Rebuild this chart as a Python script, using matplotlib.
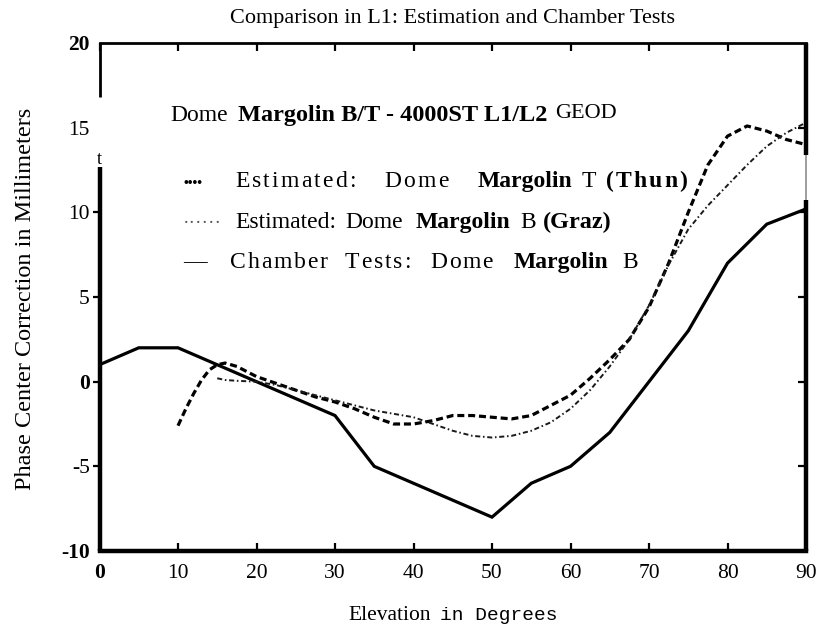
import matplotlib
matplotlib.use("Agg")
import matplotlib.pyplot as plt
from matplotlib import transforms as mtransforms

# Estimated phase centre correction, Dome Margolin T (Thun)
elev_thun = [10, 11, 12, 13, 14, 15, 16, 17.5, 20, 22.5, 25, 27.5, 30, 32.5, 35,
             37.5, 40, 42.5, 45, 47.5, 50, 52.5, 55, 57.5, 60, 62.5, 65, 67.5,
             70, 72.5, 75, 77.5, 80, 82.5, 85, 87.5, 90]
corr_thun = [-2.6, -1.6, -0.7, 0.1, 0.7, 1.0, 1.1, 0.9, 0.3, -0.1, -0.5, -0.9,
             -1.2, -1.6, -2.1, -2.5, -2.5, -2.3, -2.0, -2.0, -2.1, -2.2, -2.0,
             -1.4, -0.8, 0.2, 1.3, 2.5, 4.4, 7.0, 10.0, 12.8, 14.5, 15.1, 14.8,
             14.3, 14.0]

# Estimated phase centre correction, Dome Margolin B (Graz)
elev_graz = [15, 16, 17.5, 20, 22.5, 25, 27.5, 30, 32.5, 35, 37.5, 40, 42.5, 45,
             47.5, 50, 52.5, 55, 57.5, 60, 62.5, 65, 67.5, 70, 72.5, 75, 77.5,
             80, 82.5, 85, 87.5, 90]
corr_graz = [0.2, 0.1, 0.05, 0.0, -0.2, -0.5, -0.8, -1.1, -1.4, -1.7, -1.9, -2.1,
             -2.5, -2.9, -3.2, -3.3, -3.2, -2.9, -2.4, -1.6, -0.5, 0.9, 2.5, 4.5,
             6.9, 9.0, 10.4, 11.6, 12.8, 13.9, 14.7, 15.3]

# Anechoic chamber measurements, Dome Margolin B
elev_chamber = [0, 5, 10, 15, 20, 25, 30, 35, 40, 45, 50, 55, 60, 65, 70, 75, 80, 85, 90]
corr_chamber = [1.0, 2.0, 2.0, 1.0, 0.0, -1.0, -2.0, -5.0, -6.0, -7.0, -8.0, -6.0,
                -5.0, -3.0, 0.0, 3.0, 7.0, 9.3, 10.2]

x_ticks = [0, 10, 20, 30, 40, 50, 60, 70, 80, 90]
y_ticks = [-10, -5, 0, 5, 10, 15, 20]

SERIF = "Liberation Serif"
MONO = "Liberation Mono"
W, H = 823, 628

fig = plt.figure(figsize=(W / 100, H / 100), dpi=100)
fig.patch.set_facecolor("white")
ax = fig.add_axes([99.5 / W, 77 / H, 706.5 / W, 508 / H])
ax.set_xlim(0, 90)
ax.set_ylim(-10, 20)

ax.plot(elev_chamber, corr_chamber, color="black", lw=2.3, solid_joinstyle="miter")
ax.plot(elev_thun, corr_thun, color="black", lw=2.3, ls=(0, (2.2, 1.2)))
ax.plot(elev_graz, corr_graz, color="#1a1a1a", lw=1.4, ls=(0, (2.6, 1.4, 0.8, 1.4)))

# x axis: inward ticks on bottom and top
ax.set_xticks(x_ticks)
ax.set_xticklabels([str(v) for v in x_ticks], fontfamily=SERIF, fontsize=15.5)
ax.tick_params(axis="x", direction="in", top=True, length=6, width=1.6, pad=9)
ax.get_xticklabels()[0].set_fontweight("bold")

# y axis: outward ticks on the left
ax.set_yticks(y_ticks)
ax.set_yticklabels([str(v) for v in y_ticks], fontfamily=SERIF, fontsize=15.5)
ax.tick_params(axis="y", direction="out", length=5, width=1.6, pad=2)
for i, v in enumerate(y_ticks):
    if v in (-10, 15, 20):
        ax.yaxis.get_major_ticks()[i].tick1line.set_visible(False)
    if v in (-10, 0, 20):
        ax.get_yticklabels()[i].set_fontweight("bold")

# inward ticks on the right edge
right = ax.secondary_yaxis("right")
right.set_yticks([-5, 0, 5, 10, 15])
right.tick_params(direction="in", length=6, width=1.6, labelright=False)
right.spines["right"].set_visible(False)

# frame: heavy bottom, lighter top, broken left and right edges
ax.spines["bottom"].set_linewidth(3.2)
ax.spines["top"].set_linewidth(2.0)
ax.spines["left"].set_visible(False)
ax.spines["right"].set_visible(False)
ax.plot([0, 0], [-10, 12.7], color="black", lw=3.2, clip_on=False, solid_capstyle="butt")
ax.plot([0, 0], [16.8, 20], color="black", lw=2.0, clip_on=False, solid_capstyle="butt")
ax.text(0, 12.6, "t", fontfamily=SERIF, fontsize=13, ha="center", va="bottom")
ax.plot([90, 90], [-10, 10.7], color="black", lw=3.2, clip_on=False, solid_capstyle="butt")
ax.plot([90, 90], [10.7, 13.4], color="#8c8c8c", lw=1.2, clip_on=False, solid_capstyle="butt")
ax.plot([90, 90], [13.4, 20], color="black", lw=3.2, clip_on=False, solid_capstyle="butt")

# in-plot caption: x given in figure pixels, y (baseline) in data units
blend = mtransforms.blended_transform_factory(fig.transFigure, ax.transData)
renderer = fig.canvas.get_renderer()


def put(px, y, s, size, weight="normal", family=SERIF, track=0.0, color="black"):
    props = dict(fontfamily=family, fontsize=size, fontweight=weight, color=color,
                 ha="left", va="baseline", transform=blend)
    if not track:
        t = fig.text(px / W, y, s, **props)
        return px + t.get_window_extent(renderer).width
    x = px
    for ch in s:
        t = fig.text(x / W, y, ch, **props)
        x += t.get_window_extent(renderer).width + track
    return x


FS = 17
put(170, 15.4, "Dome", FS)
put(238, 15.4, "Margolin B/T - 4000ST L1/L2", 17.5, "bold")
put(555, 15.6, "GEOD", 16)

put(183, 11.5, "\u2022\u2022\u2022\u2022", 10, "bold")
put(235, 11.5, "Estimated:", FS, track=2.2)
put(384, 11.5, "Dome", FS, track=2.2)
put(478, 11.5, "Margolin", FS, "bold")
put(582, 11.5, "T", FS)
put(606, 11.5, "(Thun)", FS, "bold", track=2)

put(183, 9.05, "\u00b7\u00b7\u00b7\u00b7\u00b7\u00b7", 14, color="#555555")
put(235, 9.05, "Estimated:", FS)
put(345, 9.05, "Dome", FS)
put(416, 9.05, "Margolin", FS, "bold")
put(520, 9.05, "B", FS)
put(543, 9.05, "(Graz)", 17.5, "bold")

put(183, 6.7, "\u2014", FS)
put(230, 6.7, "Chamber", FS, track=1.8)
put(345, 6.7, "Tests:", FS, track=1.8)
put(430, 6.7, "Dome", FS, track=1.8)
put(514, 6.7, "Margolin", FS, "bold")
put(622, 6.7, "B", FS)

fig.text(452 / W, 1 - 18 / H, "Comparison in L1: Estimation and Chamber Tests",
         fontfamily=SERIF, fontsize=16, ha="center", va="center")
fig.text(26 / W, 1 - 299 / H, "Phase Center Correction in Millimeters",
         fontfamily=SERIF, fontsize=17.5, rotation=90, ha="center", va="center")
fig.text(348 / W, 1 - 620 / H, "Elevation", fontfamily=SERIF, fontsize=15.5,
         ha="left", va="baseline")
fig.text(440 / W, 1 - 620 / H, "in Degrees", fontfamily=MONO, fontsize=14,
         ha="left", va="baseline")

fig.savefig("out.png", dpi=100, facecolor="white")
